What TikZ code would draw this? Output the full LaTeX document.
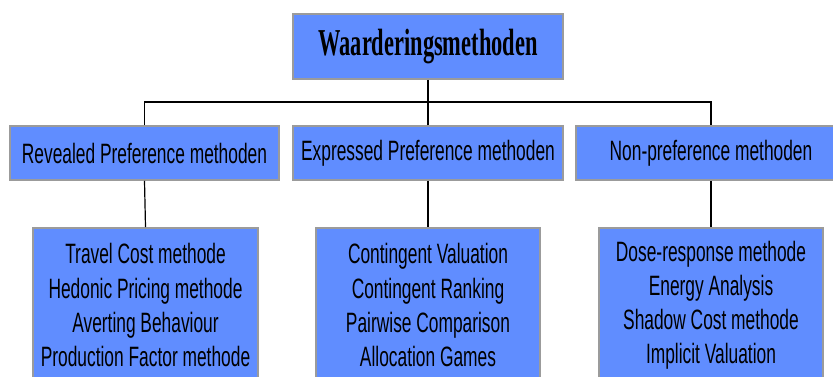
\documentclass[tikz,border=0pt]{standalone}
\usepackage{fontspec}
\usepackage{tikz}

\newfontfamily\boxfont{Liberation Sans}[FakeStretch=0.62]
\newfontfamily\headfont{Liberation Serif}[FakeStretch=0.59]
\definecolor{boxblue}{RGB}{96,141,255}
\definecolor{boxedge}{RGB}{155,155,155}

\begin{document}
\begin{tikzpicture}[x=1pt,y=-1pt,
		blok/.style={draw=boxedge,fill=boxblue,line width=1.5pt,inner sep=0pt,align=center,
			font=\boxfont\fontsize{28}{34.3}\selectfont},
		lijn/.style={black,line width=1.2pt}]
		
		\path[use as bounding box,clip] (0,0) rectangle (833,376);
		
		% Hoofdblok
		\node[blok,minimum width=270,minimum height=65,font=\headfont\bfseries\fontsize{38}{40}\selectfont] (top) at (428,46.5) {Waarderingsmethoden};
		
		% Tweede niveau
		\node[blok,minimum width=269,minimum height=54] (rev) at (144.5,153) {Revealed Preference methoden};
		\node[blok,minimum width=270,minimum height=54] (exp) at (428,153) {Expressed Preference methoden};
		\node[blok,minimum width=270,minimum height=54] (non) at (711,153) {Non-preference methoden};
		
		% Derde niveau
		\node[blok,minimum width=225,minimum height=155,anchor=north] (revm) at (145.5,227) {Travel Cost methode\\Hedonic Pricing methode\\Averting Behaviour\\Production Factor methode};
		\node[blok,minimum width=224,minimum height=155,anchor=north] (expm) at (428,227) {Contingent Valuation\\Contingent Ranking\\Pairwise Comparison\\Allocation Games};
		\node[blok,minimum width=224,minimum height=155,anchor=north] (nonm) at (711,227) {Dose-response methode\\Energy Analysis\\Shadow Cost methode\\Implicit Valuation};
		
		% Verbindingen
		\coordinate (bus) at (0,102);
		\draw[lijn] (top.south) -- (top.south |- bus);
		\draw[lijn] (rev.north) |- (non.north |- bus) -- (non.north);
		\draw[lijn] (exp.north) -- (exp.north |- bus);
		\draw[lijn] (rev.south) -- (revm.north);
		\draw[lijn] (exp.south) -- (expm.north);
		\draw[lijn] (non.south) -- (nonm.north);
	\end{tikzpicture}
\end{document}
